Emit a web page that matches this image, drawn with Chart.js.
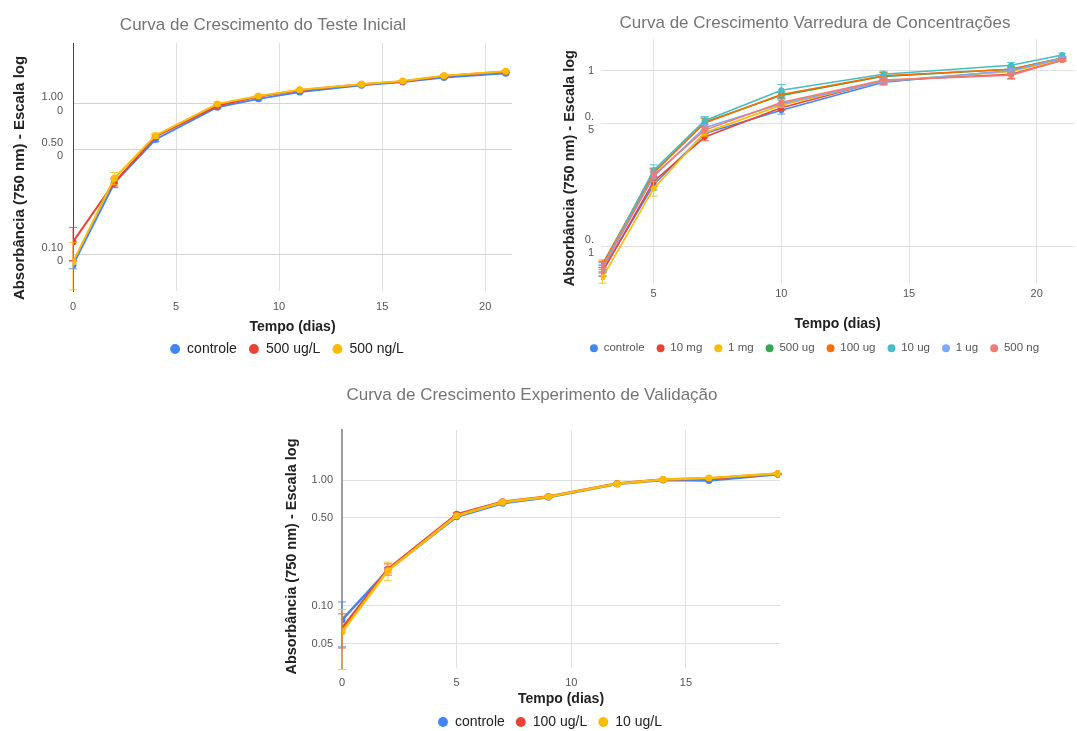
<!DOCTYPE html>
<html lang="pt">
<head>
<meta charset="UTF-8">
<title>Curvas de Crescimento</title>
<script src="https://cdn.jsdelivr.net/npm/chart.js"></script>
<style>
  body { margin: 0; background: #fff; overflow: hidden; }
  canvas { position: absolute; }
</style>
</head>
<body>
<canvas id="c1" width="540" height="366" style="left:0;top:0"></canvas>
<canvas id="c2" width="537" height="364" style="left:540px;top:0"></canvas>
<canvas id="c3" width="560" height="359" style="left:280px;top:380px"></canvas>
<script>
// Teste Inicial
var dias1 = [0, 2, 4, 7, 9, 11, 14, 16, 18, 21];
var controle1 = [0.085, 0.297, 0.58, 0.95, 1.08, 1.20, 1.33, 1.40, 1.50, 1.60];
var ug500_1 = [0.121, 0.30, 0.605, 0.97, 1.12, 1.23, 1.35, 1.41, 1.53, 1.64];
var ng500_1 = [0.089, 0.32, 0.615, 1.0, 1.13, 1.24, 1.35, 1.42, 1.54, 1.65];
var errControle1 = [0.005, 0.02, 0.02, 0.02, 0.02, 0.02, 0.02, 0.02, 0.02, 0.02];
var errUg500_1 = [0.03, 0.02, 0.02, 0.02, 0.02, 0.02, 0.02, 0.02, 0.02, 0.02];
var errNg500_1 = [0.031, 0.03, 0.025, 0.03, 0.02, 0.02, 0.02, 0.02, 0.02, 0.02];
var xTicks1 = [0, 5, 10, 15, 20];
var yTicks1 = [0.1, 0.5, 1];
var yLabels1 = [['0.10', '0'], ['0.50', '0'], ['1.00', '0']];

// Varredura de Concentracoes
var dias2 = [3, 5, 7, 10, 14, 19, 21];
var nomes2 = ['controle', '10 mg', '1 mg', '500 ug', '100 ug', '10 ug', '1 ug', '500 ng'];
var controle2 = [0.073, 0.225, 0.44, 0.597, 0.86, 1.0, 1.17];
var mg10 = [0.072, 0.235, 0.42, 0.616, 0.88, 0.955, 1.15];
var mg1 = [0.067, 0.214, 0.445, 0.638, 0.875, 0.99, 1.16];
var ug500 = [0.078, 0.262, 0.51, 0.725, 0.93, 1.02, 1.18];
var ug100 = [0.080, 0.265, 0.505, 0.734, 0.937, 1.02, 1.18];
var ug10 = [0.077, 0.272, 0.52, 0.776, 0.955, 1.075, 1.23];
var ug1 = [0.075, 0.25, 0.475, 0.65, 0.87, 1.0, 1.18];
var ng500 = [0.076, 0.255, 0.46, 0.66, 0.885, 0.945, 1.15];
var err2 = [
  [0.005, 0.015, 0.02, 0.03, 0.03, 0.04, 0.02],
  [0.004, 0.015, 0.02, 0.02, 0.03, 0.05, 0.02],
  [0.005, 0.02, 0.02, 0.02, 0.03, 0.03, 0.02],
  [0.004, 0.015, 0.03, 0.03, 0.05, 0.04, 0.02],
  [0.004, 0.015, 0.03, 0.03, 0.04, 0.03, 0.03],
  [0.005, 0.02, 0.03, 0.06, 0.04, 0.04, 0.03],
  [0.004, 0.015, 0.02, 0.03, 0.03, 0.03, 0.02],
  [0.005, 0.015, 0.02, 0.03, 0.05, 0.05, 0.02]
];
var xTicks2 = [5, 10, 15, 20];
var yTicks2 = [0.1, 0.5, 1];
var yLabels2 = [['0.', '1'], ['0.', '5'], '1'];

// Experimento de Validacao
var dias3 = [0, 2, 5, 7, 9, 12, 14, 16, 19];
var controle3 = [0.077, 0.192, 0.51, 0.653, 0.728, 0.93, 1.0, 0.99, 1.11];
var ug100_3 = [0.066, 0.195, 0.533, 0.672, 0.74, 0.94, 1.01, 1.03, 1.12];
var ug10_3 = [0.062, 0.19, 0.52, 0.665, 0.735, 0.935, 1.01, 1.035, 1.125];
var errControle3 = [0.03, 0.01, 0.01, 0.01, 0.01, 0.01, 0.01, 0.01, 0.01];
var errUg100_3 = [0.02, 0.02, 0.015, 0.01, 0.01, 0.01, 0.01, 0.01, 0.01];
var errUg10_3 = [0.031, 0.032, 0.015, 0.01, 0.015, 0.01, 0.01, 0.01, 0.01];
var xTicks3 = [0, 5, 10, 15];
var yTicks3 = [0.05, 0.1, 0.5, 1];
var yLabels3 = ['0.05', '0.10', '0.50', '1.00'];

var cores = ['#4285F4', '#EA4335', '#FBBC04', '#34A853', '#FF6D01', '#46BDC6', '#7BAAF7', '#F07B72'];

Chart.defaults.font.family = 'Arial, "Liberation Sans", sans-serif';

// barras de erro desenhadas pelas escalas do grafico
var errorBars = {
  id: 'errorBars',
  afterDatasetDraw: function (chart, args) {
    var ds = chart.data.datasets[args.index];
    if (!ds.err) return;
    var xs = chart.scales.x, ys = chart.scales.y, ctx = chart.ctx;
    ctx.save();
    ctx.strokeStyle = ds.borderColor;
    ctx.globalAlpha = 0.85;
    ctx.lineWidth = 1;
    ds.data.forEach(function (p, i) {
      var e = ds.err[i];
      var px = xs.getPixelForValue(p.x);
      var top = ys.getPixelForValue(p.y + e);
      var bot = ys.getPixelForValue(p.y - e);
      ctx.beginPath();
      ctx.moveTo(px, top); ctx.lineTo(px, bot);
      ctx.moveTo(px - 4, top); ctx.lineTo(px + 4, top);
      ctx.moveTo(px - 4, bot); ctx.lineTo(px + 4, bot);
      ctx.stroke();
    });
    ctx.restore();
  }
};

// desloca titulo, legenda e titulo do eixo y
var shiftBoxes = {
  id: 'shiftBoxes',
  afterLayout: function (chart, args, opts) {
    if (opts.title && chart.titleBlock) {
      chart.titleBlock.left += opts.title;
      chart.titleBlock.right += opts.title;
    }
    if (opts.legend && chart.legend) {
      chart.legend.left += opts.legend;
      chart.legend.right += opts.legend;
    }
    var s = chart.scales.y;
    if (opts.yTitle && !s._shifted) {
      var d = opts.yTitle, draw = s.drawTitle;
      s.drawTitle = function () {
        this.top += d; this.bottom += d;
        draw.call(this);
        this.top -= d; this.bottom -= d;
      };
      s._shifted = true;
    }
  }
};

function serie(label, dias, vals, errs, i) {
  return {
    label: label,
    data: dias.map(function (d, k) { return { x: d, y: vals[k] }; }),
    err: errs,
    borderColor: cores[i],
    backgroundColor: cores[i],
    order: -i
  };
}

function grafico(id, o) {
  return new Chart(document.getElementById(id), {
    type: 'line',
    data: { datasets: o.datasets },
    plugins: [errorBars, shiftBoxes],
    options: {
      responsive: false,
      animation: false,
      layout: { padding: o.padding },
      elements: {
        line: { borderWidth: o.lineWidth, tension: 0 },
        point: { radius: o.pointRadius, hoverRadius: o.pointRadius, borderWidth: 0 }
      },
      plugins: {
        title: {
          display: true, text: o.title, color: '#757575',
          font: { size: 17, weight: 'normal' }, padding: o.titlePad
        },
        legend: {
          position: 'bottom',
          labels: {
            usePointStyle: true, pointStyle: 'circle',
            boxWidth: o.box, boxHeight: o.box * 0.7,
            padding: o.legendPad, color: o.legendColor,
            font: { size: o.legendSize },
            sort: function (a, b) { return a.datasetIndex - b.datasetIndex; }
          }
        },
        tooltip: { enabled: false },
        shiftBoxes: { title: o.shiftTitle, legend: o.shiftLegend, yTitle: o.shiftYTitle }
      },
      scales: {
        x: {
          type: 'linear', min: o.xMin, max: o.xMax,
          afterBuildTicks: function (s) { s.ticks = o.xTicks.map(function (v) { return { value: v }; }); },
          afterFit: function (s) { s.height = o.h - o.areaBottom - s.chart.legend.height; },
          ticks: { padding: o.xTickPad, color: '#555', font: { size: 11 } },
          grid: { drawTicks: false, color: '#e0e0e0' },
          border: { display: false },
          title: {
            display: true, text: 'Tempo (dias)', color: '#222',
            font: { size: 14, weight: 'bold' }, padding: { top: 0, bottom: o.xTitlePad }
          }
        },
        y: {
          type: 'logarithmic', min: o.yMin, max: o.yMax,
          afterBuildTicks: function (s) { s.ticks = o.yTicks.map(function (v) { return { value: v }; }); },
          afterFit: function (s) { s.width = o.yWidth; },
          ticks: {
            padding: o.yTickPad, color: '#555', font: { size: 11 },
            callback: function (v, i) { return o.yLabels[i]; }
          },
          grid: { drawTicks: false, color: o.yGrid },
          border: o.yBorder,
          title: {
            display: true, text: 'Absorbância (750 nm) - Escala log', color: '#222',
            font: { size: o.yTitleSize, weight: 'bold' }, padding: { top: o.yTitlePad, bottom: 0 }
          }
        }
      }
    }
  });
}

grafico('c1', {
  h: 366, areaBottom: 291,
  title: 'Curva de Crescimento do Teste Inicial',
  titlePad: { top: 15, bottom: 7.6 }, shiftTitle: 7, shiftLegend: 31, shiftYTitle: 11,
  padding: { left: 0, right: 28, top: 0, bottom: 0 },
  datasets: [
    serie('controle', dias1, controle1, errControle1, 0),
    serie('500 ug/L', dias1, ug500_1, errUg500_1, 1),
    serie('500 ng/L', dias1, ng500_1, errNg500_1, 2)
  ],
  lineWidth: 2, pointRadius: 3.5,
  box: 10, legendPad: 12, legendColor: '#222', legendSize: 14,
  xMin: 0, xMax: 21.3, xTicks: xTicks1, xTickPad: 9, xTitlePad: -6,
  yMin: 0.057, yMax: 2.54, yTicks: yTicks1, yLabels: yLabels1,
  yWidth: 73, yTickPad: 10, yGrid: '#d3d3d3',
  yBorder: { display: true, color: '#444', width: 1 },
  yTitleSize: 15, yTitlePad: 11
});

grafico('c2', {
  h: 364, areaBottom: 283,
  title: 'Curva de Crescimento Varredura de Concentrações',
  titlePad: { top: 12.8, bottom: 6.1 }, shiftTitle: 6.5, shiftLegend: 6, shiftYTitle: 7,
  padding: { left: 0, right: 0, top: 0, bottom: 0 },
  datasets: [controle2, mg10, mg1, ug500, ug100, ug10, ug1, ng500].map(function (v, i) {
    return serie(nomes2[i], dias2, v, err2[i], i);
  }),
  lineWidth: 1.6, pointRadius: 3,
  box: 8, legendPad: 12, legendColor: '#555', legendSize: 11.5,
  xMin: 2.94, xMax: 21.46, xTicks: xTicks2, xTickPad: 4.4, xTitlePad: -1.9,
  yMin: 0.0622, yMax: 1.51, yTicks: yTicks2, yLabels: yLabels2,
  yWidth: 61, yTickPad: 7, yGrid: '#e0e0e0',
  yBorder: { display: false },
  yTitleSize: 14.5, yTitlePad: 21.3
});

grafico('c3', {
  h: 359, areaBottom: 288,
  title: 'Curva de Crescimento Experimento de Validação',
  titlePad: { top: 4.8, bottom: 24.8 }, shiftTitle: 2, shiftLegend: 20, shiftYTitle: 7.5,
  padding: { left: 0, right: 60, top: 0, bottom: 0 },
  datasets: [
    serie('controle', dias3, controle3, errControle3, 0),
    serie('100 ug/L', dias3, ug100_3, errUg100_3, 1),
    serie('10 ug/L', dias3, ug10_3, errUg10_3, 2)
  ],
  lineWidth: 2.5, pointRadius: 3.5,
  box: 10, legendPad: 11, legendColor: '#222', legendSize: 14,
  xMin: 0, xMax: 19.1, xTicks: xTicks3, xTickPad: 8.7, xTitlePad: -3.4,
  yMin: 0.0319, yMax: 2.5, yTicks: yTicks3, yLabels: yLabels3,
  yWidth: 62, yTickPad: 9, yGrid: '#e0e0e0',
  yBorder: { display: true, color: '#9e9e9e', width: 2 },
  yTitleSize: 14.5, yTitlePad: 3.3
});
</script>
</body>
</html>
